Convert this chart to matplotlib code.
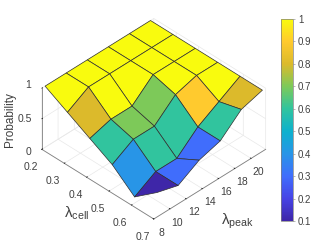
import numpy as np
import matplotlib
matplotlib.use('Agg')
import matplotlib.pyplot as plt
from matplotlib.colors import LinearSegmentedColormap, Normalize
from matplotlib.cm import ScalarMappable

plt.rcParams['font.family'] = ['Liberation Sans', 'DejaVu Sans']
plt.rcParams['mathtext.fontset'] = 'custom'
plt.rcParams['mathtext.rm'] = 'Liberation Sans'
plt.rcParams['mathtext.it'] = 'Liberation Sans:italic'

lambda_cell = [0.2, 0.3, 0.4, 0.5, 0.6, 0.7]
lambda_peak = [8.4, 11.0, 13.6, 16.2, 18.8, 21.4]
# rows: lambda_peak, columns: lambda_cell
probability = [
    [1.0, 0.8, 0.6, 0.4, 0.1, 0.4],
    [1.0, 1.0, 0.7, 0.6, 0.3, 0.3],
    [1.0, 1.0, 0.7, 0.6, 0.3, 0.5],
    [1.0, 1.0, 1.0, 0.9, 0.6, 0.6],
    [1.0, 1.0, 1.0, 1.0, 0.8, 0.9],
    [1.0, 1.0, 1.0, 1.0, 1.0, 1.0],
]
cell_ticks = [0.2, 0.3, 0.4, 0.5, 0.6, 0.7]
peak_ticks = [8, 10, 12, 14, 16, 18, 20]
z_ticks = [0, 0.5, 1]
z_labels = ['0', '0.5', '1']
cbar_ticks = [0.1, 0.2, 0.3, 0.4, 0.5, 0.6, 0.7, 0.8, 0.9, 1]
cbar_labels = ['0.1', '0.2', '0.3', '0.4', '0.5', '0.6', '0.7', '0.8', '0.9', '1']

parula = LinearSegmentedColormap.from_list('parula', [
    (0.00, (0.2422, 0.1504, 0.6603)),
    (0.11, (0.2780, 0.2640, 0.9000)),
    (0.22, (0.2500, 0.4300, 0.9900)),
    (0.33, (0.1600, 0.5800, 0.9100)),
    (0.44, (0.0500, 0.6900, 0.8100)),
    (0.556, (0.1900, 0.7700, 0.6200)),
    (0.667, (0.4900, 0.7900, 0.3500)),
    (0.778, (0.8600, 0.7300, 0.1700)),
    (0.889, (1.0000, 0.7900, 0.1800)),
    (1.00, (0.9763, 0.9831, 0.0538)),
])
norm = Normalize(0.1, 1)
ink = '#404040'

fig = plt.figure(figsize=(3.32, 2.49), dpi=100)
ax = fig.add_axes([0.0, 6.5 / 249, 301 / 332, 241 / 249], projection='3d', proj_type='ortho')
ax.view_init(elev=38.5, azim=-45)
ax.set_box_aspect((1, 1, 0.494), zoom=0.955)
X, Y = np.meshgrid(lambda_cell, lambda_peak)
Z = np.array(probability)
ax.plot_surface(X, Y, Z, rstride=1, cstride=1, facecolors=parula(norm(Z)),
                shade=False, edgecolor='#303030', linewidth=0.5, antialiased=True)
ax.set_xlim(0.2, 0.7, view_margin=0)
ax.set_ylim(8, 21.8, view_margin=0)
ax.set_zlim(0, 1, view_margin=0)
ax.set_xticks(cell_ticks)
ax.set_yticks(peak_ticks)
ax.set_zticks(z_ticks)
ax.set_zticklabels([''] * len(z_ticks))
for a in (ax.xaxis, ax.yaxis, ax.zaxis):
    a.set_pane_color((1, 1, 1, 0))
    a.pane.set_edgecolor((1, 1, 1, 0))
    a.line.set_color('#808080')
    a.line.set_linewidth(0.6)
    a._axinfo['grid']['color'] = '#e8e8e8'
    a._axinfo['grid']['linewidth'] = 0.5
    a._axinfo['tick']['linewidth'] = {True: 0.5, False: 0.4}
    a._axinfo['tick']['color'] = '#808080'
    a._axinfo['tick']['inward_factor'] = 0.0
    a._axinfo['tick']['outward_factor'] = 0.08
ax.zaxis.set_ticks_position('lower')
ax.tick_params(axis='x', labelsize=7.5, labelcolor=ink, pad=1)
ax.tick_params(axis='y', labelsize=7.5, labelcolor=ink, pad=-2)

for z_label, y_px in zip(z_labels, (152, 119, 85)):
    fig.text(31.5 / 332, 1 - y_px / 249, z_label, fontsize=7.5, color=ink, ha='right', va='center')
fig.text(77 / 332, 1 - 213 / 249, r'$\mathrm{\lambda_{cell}}$', fontsize=11, color=ink, ha='center', va='center')
fig.text(237 / 332, 1 - 221 / 249, r'$\mathrm{\lambda_{peak}}$', fontsize=11, color=ink, ha='center', va='center')
fig.text(10 / 332, 1 - 120 / 249, 'Probability', fontsize=8.5, color=ink, rotation=90, ha='center', va='center')

cax = fig.add_axes([281 / 332, 1 - 221 / 249, 12 / 332, 202 / 249])
cb = fig.colorbar(ScalarMappable(norm=norm, cmap=parula), cax=cax, ticks=cbar_ticks)
cb.ax.set_yticklabels(cbar_labels)
cb.ax.tick_params(labelsize=7, labelcolor=ink, length=1.5, width=0.4, color='#808080', pad=2, direction='out')
cb.outline.set_edgecolor('#808080')
cb.outline.set_linewidth(0.5)
fig.savefig('out.png', dpi=100)
